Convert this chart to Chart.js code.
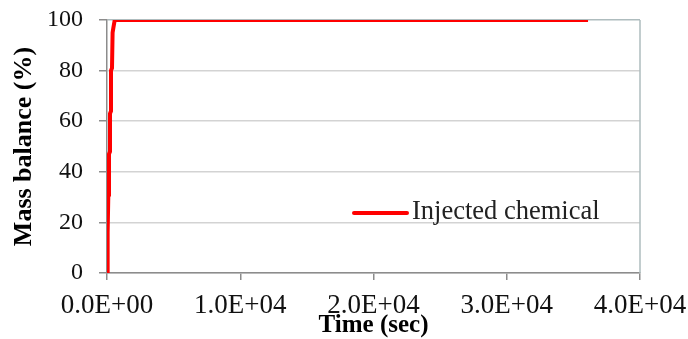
<!DOCTYPE html>
<html>
<head>
<meta charset="utf-8">
<script src="https://cdn.jsdelivr.net/npm/chart.js@4/dist/chart.umd.min.js"></script>
<style>
  html, body { margin: 0; padding: 0; background: #fff; }
  #wrap { width: 688px; height: 339px; position: relative; }
</style>
</head>
<body>
<div id="wrap"><canvas id="diagram"></canvas></div>
<script>
// data
let seriesName = 'Injected chemical';
let timeSec = [0, 20, 75, 100, 150, 150, 225, 225, 300, 300, 375, 420, 480, 580, 36100];
let massPct = [0, 15, 16, 31, 32, 47, 48, 63, 64, 80, 81, 95, 97, 100, 100];
let xTicks = [0, 10000, 20000, 30000, 40000];
let yTicks = [0, 20, 40, 60, 80, 100];

let serif = '"Liberation Serif", "Times New Roman", serif';

function sciLabel(v) {
    if (v === 0) return '0.0E+00';
    let e = Math.floor(Math.log10(Math.abs(v)));
    let m = v / Math.pow(10, e);
    return m.toFixed(1) + 'E+' + String(e).padStart(2, '0');
}

// legend + x title + right border drawn by hand
let extras = {
    id: 'extras',
    afterDraw(chart) {
        let ctx = chart.ctx;
        let a = chart.chartArea;
        let ds = chart.data.datasets[0];
        ctx.save();

        // right border of plot
        ctx.strokeStyle = '#aebcbe';
        ctx.lineWidth = 1.5;
        ctx.beginPath();
        ctx.moveTo(a.right, a.top);
        ctx.lineTo(a.right, a.bottom);
        ctx.stroke();

        // legend
        ctx.strokeStyle = ds.borderColor;
        ctx.lineWidth = 4;
        ctx.lineCap = 'round';
        ctx.beginPath();
        ctx.moveTo(354, 213);
        ctx.lineTo(407, 213);
        ctx.stroke();
        ctx.fillStyle = '#222';
        ctx.font = '26.5px ' + serif;
        ctx.textBaseline = 'alphabetic';
        ctx.textAlign = 'left';
        ctx.fillText(ds.label, 412, 219);

        // x title
        ctx.font = 'bold 25px ' + serif;
        ctx.textAlign = 'center';
        ctx.fillStyle = '#000';
        ctx.fillText('Time (sec)', (a.left + a.right) / 2, 332);
        ctx.restore();
    }
};

let chart = new Chart(document.getElementById('diagram'), {
    type: 'line',
    data: {
        datasets: [{
            label: seriesName,
            data: timeSec.map((t, i) => ({ x: t, y: massPct[i] })),
            borderColor: '#ff0000',
            backgroundColor: '#ff0000',
            borderWidth: 4,
            pointRadius: 0,
            tension: 0
        }]
    },
    options: {
        responsive: true,
        maintainAspectRatio: false,
        animation: false,
        layout: { padding: { top: 20, right: 48, left: 0, bottom: 0 } },
        plugins: {
            legend: { display: false },
            tooltip: { enabled: false }
        },
        scales: {
            x: {
                type: 'linear',
                min: 0,
                max: 40000,
                afterBuildTicks: s => { s.ticks = xTicks.map(v => ({ value: v })); },
                afterFit: s => { s.height = 66; s.paddingLeft = 0; s.paddingRight = 0; },
                grid: {
                    drawOnChartArea: false,
                    color: '#8c8c8c',
                    tickLength: 7,
                    lineWidth: 1.5
                },
                border: { color: '#8c8c8c', width: 1.5 },
                ticks: {
                    color: '#111',
                    padding: 10,
                    maxRotation: 0,
                    font: { family: serif, size: 27 },
                    callback: v => sciLabel(v)
                }
            },
            y: {
                min: 0,
                max: 100,
                afterBuildTicks: s => { s.ticks = yTicks.map(v => ({ value: v })); },
                afterFit: s => { s.width = 107; s.paddingTop = 0; s.paddingBottom = 0; },
                grid: {
                    color: c => c.tick.value === 100 ? '#aebcbe' : '#d3d3d3',
                    tickColor: '#8c8c8c',
                    tickLength: 8,
                    lineWidth: 1.5
                },
                border: { color: '#8c8c8c', width: 1.5 },
                ticks: {
                    color: '#111',
                    padding: 16,
                    font: { family: serif, size: 24 }
                },
                title: {
                    display: true,
                    text: 'Mass balance (%)',
                    color: '#000',
                    padding: { top: 9, bottom: 0 },
                    font: { family: serif, size: 26, weight: 'bold' }
                }
            }
        }
    },
    plugins: [extras]
});
</script>
</body>
</html>
